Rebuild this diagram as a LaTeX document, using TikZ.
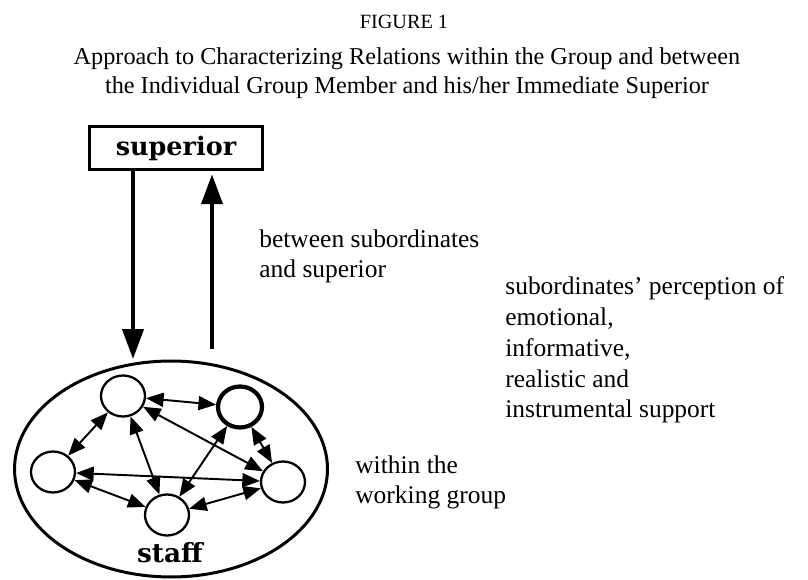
\documentclass[tikz,border=0pt]{standalone}
\usepackage{fontspec}
\setmainfont{Liberation Serif}
\newfontfamily\slabfont{DejaVu Serif}
\usepackage{tikz}
\usetikzlibrary{arrows.meta,positioning,shapes.geometric}

\tikzset{
  member/.style={draw, ellipse, line width=1.3pt, minimum width=0.88cm, minimum height=0.82cm, inner sep=0pt},
  link/.style={line width=1.1pt, <->, >={Triangle[length=10pt,width=8pt]}},
  bigarrow/.style={line width=2.2pt, ->, >={Triangle[length=17pt,width=12pt]}},
  lbl/.style={font=\fontsize{14.5}{17.6}\selectfont, align=left, inner sep=0pt},
  boldlbl/.style={font=\slabfont\bfseries\fontsize{14.5}{17}\selectfont}
}

\begin{document}
\begin{tikzpicture}[x=0.02cm, y=-0.02cm]
  \useasboundingbox (0,0) rectangle (808,580);
  \node[font=\fontsize{11.5}{14}\selectfont] (fig) at (404,22) {FIGURE 1};
  \node[font=\fontsize{13.8}{16.4}\selectfont, align=center] (title) at (407,73)
    {Approach to Characterizing Relations within the Group and between\\the Individual Group Member and his/her Immediate Superior};

  \node[draw, line width=1.5pt, minimum width=3.46cm, minimum height=0.86cm, boldlbl] (sup) at (176,148) {superior};

  \node[draw, ellipse, line width=1.7pt, minimum width=6.26cm, minimum height=4.32cm] (staff) at (171,469) {};
  \node[boldlbl, font=\slabfont\bfseries\fontsize{15}{18}\selectfont] (stafflbl) at (170,553) {staff};

  \node[member] (a) at (123,396) {};
  \node[member, line width=2.4pt] (b) at (240,407) {};
  \node[member] (c) at (53,472) {};
  \node[member] (d) at (283,482) {};
  \node[member] (e) at (167,515) {};
  \foreach \u/\v in {a/b,a/c,b/d,c/e,e/d,a/e,b/e,a/d,c/d}
    \draw[link] (\u) -- (\v);

  \coordinate (dntip) at (133,359);
  \coordinate (upfoot) at (212,349);
  \draw[bigarrow] (sup.south -| dntip) -- (dntip);
  \draw[bigarrow, shorten >=2pt] (upfoot) -- (upfoot |- sup.south);

  \node[lbl, anchor=base west] (between) at (259,278) {between subordinates\\and superior};
  \node[lbl, anchor=base west] (percep) at (505,418)
    {subordinates' perception of\\emotional,\\informative,\\realistic and\\instrumental support};
  \node[lbl, anchor=base west] (within) at (355,504) {within the\\working group};
\end{tikzpicture}
\end{document}
